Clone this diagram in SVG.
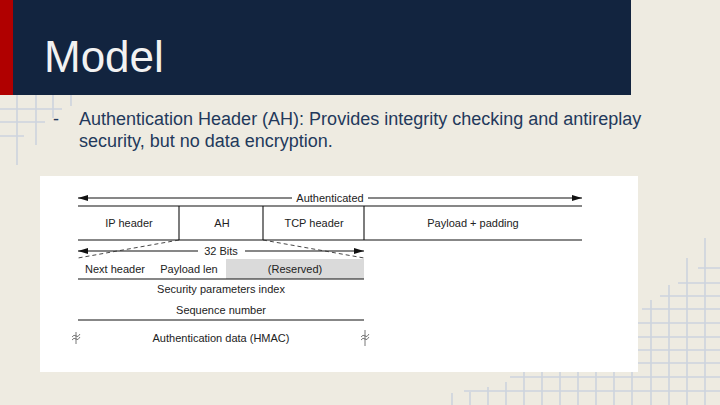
<svg xmlns="http://www.w3.org/2000/svg" width="720" height="405" viewBox="0 0 720 405">
<defs>
<marker id="ah" viewBox="0 0 10 6" refX="10" refY="3" markerWidth="10" markerHeight="6" markerUnits="userSpaceOnUse" orient="auto-start-reverse"><path d="M0,0 L10,3 L0,6 z" fill="#111"/></marker>
<style>
.grid{stroke:#cdd4de;stroke-width:1.6;fill:none}
.ln{stroke:#111;stroke-width:1.1;fill:none}
.dash{stroke:#333;stroke-width:0.9;stroke-dasharray:4 3;fill:none}
.t{font-family:"Liberation Sans",Arial,sans-serif;font-size:11px;fill:#222;text-anchor:middle}
.body{font-family:"Liberation Sans",Arial,sans-serif;font-size:18px;fill:#23395b}
</style>
</defs>
<rect width="720" height="405" fill="#eeebe1"/>
<g id="grid-tl" class="grid">
<path d="M17,95 V165 M36,95 V145 M53,95 V118 M71,95 V106 M0,109 H62 M0,122 H45 M0,136 H24"/>
</g>
<g id="grid-br" class="grid">
<path d="M705,238 V405 M687,258 V405 M669,285 V405 M651,300 V405 M632,320 V405 M614,372 V405 M596,372 V405 M578,372 V405 M560,372 V405 M542,372 V405 M524,372 V405 M506,382 V405 M488,387 V405 M470,392 V405 M452,393 V405"/>
<path d="M698,268 H720 M678,283 H720 M660,296 H720 M642,309 H720 M636,323 H720 M636,337 H720 M636,350 H720 M636,363 H720 M510,377 H720 M464,391 H720"/>
</g>
<g id="title-bar">
<rect x="0" y="0" width="631" height="95" fill="#12243f"/>
<rect x="0" y="0" width="13" height="95" fill="#b00000"/>
<text x="44" y="72" font-family="Liberation Sans,Arial,sans-serif" font-size="44" fill="#f2f2f2">Model</text>
</g>
<g id="bullet">
<text x="53" y="125" class="body">-</text>
<text x="79" y="125" class="body">Authentication Header (AH): Provides integrity checking and antireplay</text>
<text x="79" y="147" class="body">security, but no data encryption.</text>
</g>
<rect id="figure-bg" x="40" y="176" width="598" height="196" fill="#ffffff"/>
<g id="packet">
<line class="ln" x1="78" y1="206" x2="582" y2="206"/>
<line class="ln" x1="78" y1="240" x2="582" y2="240"/>
<line class="ln" x1="179" y1="206" x2="179" y2="240"/>
<line class="ln" x1="263" y1="206" x2="263" y2="240"/>
<line class="ln" x1="364" y1="206" x2="364" y2="240"/>
<text class="t" x="129" y="227">IP header</text>
<text class="t" x="222" y="227">AH</text>
<text class="t" x="314" y="227">TCP header</text>
<text class="t" x="473" y="227">Payload + padding</text>
</g>
<g id="ah-header">
<rect x="226" y="259" width="138" height="20" fill="#dadada"/>
<text class="t" x="115" y="273">Next header</text>
<text class="t" x="189" y="273">Payload len</text>
<text class="t" x="295" y="273">(Reserved)</text>
<line class="ln" x1="78" y1="279" x2="364" y2="279"/>
<text class="t" x="221" y="293">Security parameters index</text>
<text class="t" x="221" y="314">Sequence number</text>
<line class="ln" x1="78" y1="320" x2="364" y2="320"/>
<text class="t" x="221" y="342">Authentication data (HMAC)</text>
<g stroke="#555" stroke-width="0.8" fill="none">
<path d="M76,332 V344 M72,340 q2,-3 4,-1 t4,-2 M72,337 q2,-3 4,-1 t4,-2"/>
<path d="M365,330 V346 M361,340 q2,-3 4,-1 t4,-2 M361,337 q2,-3 4,-1 t4,-2"/>
</g>
</g>
<g id="connectors">
<line class="ln" x1="78" y1="198" x2="292" y2="198" marker-start="url(#ah)"/>
<line class="ln" x1="368" y1="198" x2="582" y2="198" marker-end="url(#ah)"/>
<text class="t" x="330" y="202">Authenticated</text>
<line class="ln" x1="78" y1="251" x2="198" y2="251" marker-start="url(#ah)"/>
<line class="ln" x1="245" y1="251" x2="364" y2="251" marker-end="url(#ah)"/>
<text class="t" x="221" y="255">32 Bits</text>
<line class="dash" x1="179" y1="240" x2="78" y2="258"/>
<line class="dash" x1="263" y1="240" x2="364" y2="258"/>
</g>
</svg>
